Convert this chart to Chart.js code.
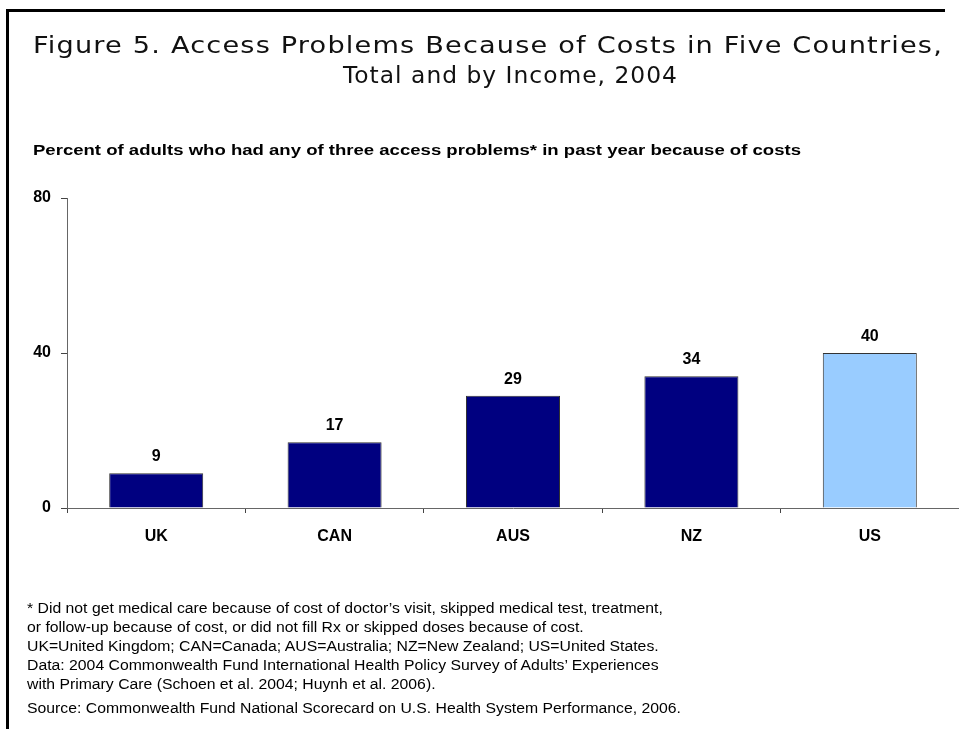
<!DOCTYPE html>
<html>
<head>
<meta charset="utf-8">
<script src="https://cdn.jsdelivr.net/npm/chart.js@4/dist/chart.umd.min.js"></script>
<style>
  html, body { margin:0; padding:0; background:#fff; }
  body { width:959px; height:729px; position:relative; overflow:hidden; }
  #frameTop { position:absolute; left:6px; top:9px; width:939px; height:3px; background:#000; }
  #frameLeft { position:absolute; left:6px; top:9px; width:3px; height:720px; background:#000; }
  .title { position:absolute; font-family:"DejaVu Sans", Verdana, sans-serif; font-size:23px; letter-spacing:1px; line-height:30px; color:#111; white-space:nowrap; transform-origin:left center; }
  #subtitle { position:absolute; left:33px; top:140px; font-family:"Liberation Sans", Arial, sans-serif; font-weight:bold; font-size:15px; line-height:20px; color:#000; white-space:nowrap; transform-origin:left center; }
  #notes { position:absolute; left:27px; top:599px; font-family:"Liberation Sans", Arial, sans-serif; font-size:14px; line-height:19px; color:#000; white-space:nowrap; transform-origin:left top; }
  #notes .src { margin-top:5px; }
  canvas { position:absolute; left:0; top:0; }
</style>
</head>
<body>
<canvas id="c" width="959" height="729"></canvas>
<div id="frameTop"></div>
<div id="frameLeft"></div>
<div class="title" id="t1" style="left:33px; top:30px">Figure 5. Access Problems Because of Costs in Five Countries,</div>
<div class="title" id="t2" style="left:343px; top:60px">Total and by Income, 2004</div>
<div id="subtitle">Percent of adults who had any of three access problems* in past year because of costs</div>
<div id="notes">
  <div>* Did not get medical care because of cost of doctor’s visit, skipped medical test, treatment,</div>
  <div>or follow-up because of cost, or did not fill Rx or skipped doses because of cost.</div>
  <div>UK=United Kingdom; CAN=Canada; AUS=Australia; NZ=New Zealand; US=United States.</div>
  <div>Data: 2004 Commonwealth Fund International Health Policy Survey of Adults’ Experiences</div>
  <div>with Primary Care (Schoen et al. 2004; Huynh et al. 2006).</div>
  <div class="src" id="srcLine">Source: Commonwealth Fund National Scorecard on U.S. Health System Performance, 2006.</div>
</div>
<script>
// ---- data ----
const categories = ['UK', 'CAN', 'AUS', 'NZ', 'US'];
const values = [9, 17, 29, 34, 40];
const yTickValues = [0, 40, 80];
const barColors = ['#000080', '#000080', '#000080', '#000080', '#99CCFF'];

// ---- text fitting ----
function textWidth(el) {
  const r = document.createRange(); r.selectNodeContents(el);
  return r.getBoundingClientRect().width;
}
function fitScaleX(el, measureEl, target) {
  const w = textWidth(measureEl);
  el.style.transform = 'scaleX(' + (target / w) + ')';
}
fitScaleX(document.getElementById('t1'), document.getElementById('t1'), 910);
fitScaleX(document.getElementById('t2'), document.getElementById('t2'), 335);
fitScaleX(document.getElementById('subtitle'), document.getElementById('subtitle'), 768);
fitScaleX(document.getElementById('notes'), document.getElementById('srcLine'), 654);

// ---- value labels plugin ----
const valueLabels = {
  id: 'valueLabels',
  afterDatasetsDraw(chart) {
    const ctx = chart.ctx;
    const meta = chart.getDatasetMeta(0);
    ctx.save();
    ctx.font = 'bold 16px "Liberation Sans", Arial, sans-serif';
    ctx.fillStyle = '#000';
    ctx.textAlign = 'center';
    ctx.textBaseline = 'alphabetic';
    meta.data.forEach((bar, i) => {
      ctx.fillText(String(values[i]), bar.x, bar.y - 12);
    });
    ctx.restore();
  }
};

const tickFont = { family: '"Liberation Sans", Arial, sans-serif', size: 16, weight: 'bold' };

new Chart(document.getElementById('c'), {
  type: 'bar',
  data: {
    labels: categories,
    datasets: [{
      data: values,
      backgroundColor: barColors,
      borderColor: '#333333',
      borderWidth: 1,
      barPercentage: 0.527,
      categoryPercentage: 1.0
    }]
  },
  options: {
    responsive: false,
    animation: false,
    events: [],
    layout: { padding: { left: 0, right: 0, top: 198, bottom: 0 } },
    plugins: { legend: { display: false }, tooltip: { enabled: false }, title: { display: false } },
    scales: {
      x: {
        offset: true,
        grid: { offset: true, drawOnChartArea: false, drawTicks: true, tickLength: 5, color: '#444', lineWidth: 1 },
        border: { display: true, color: '#666', width: 1 },
        ticks: { color: '#000', font: tickFont, padding: 14 },
        afterFit(scale) { scale.height = 221; }
      },
      y: {
        min: 0, max: 80,
        afterBuildTicks(scale) { scale.ticks = yTickValues.map(v => ({ value: v })); },
        grid: { drawOnChartArea: false, drawTicks: true, tickLength: 6, color: '#444', lineWidth: 1 },
        border: { display: true, color: '#666', width: 1 },
        ticks: { color: '#000', font: tickFont, padding: 10 },
        afterFit(scale) { scale.width = 67; }
      }
    }
  },
  plugins: [valueLabels]
});
</script>
</body>
</html>
